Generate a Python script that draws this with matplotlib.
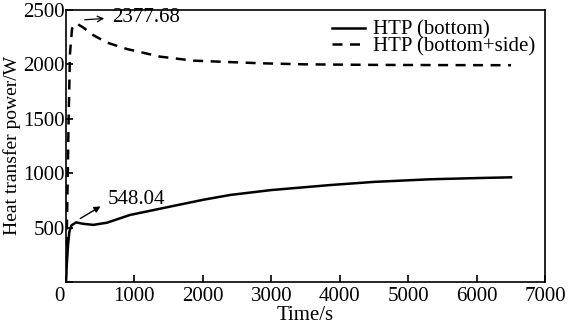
import numpy as np
import matplotlib.pyplot as plt
import matplotlib.transforms as mtransforms

plt.rcParams['font.family'] = ['Liberation Serif', 'DejaVu Serif']
plt.rcParams['mathtext.fontset'] = 'stix'

# HTP (bottom)
t_bottom = [0, 15, 30, 50, 80, 150, 250, 400, 600, 936, 1500, 2000, 2400,
            3000, 3860, 4500, 5322, 6000, 6500]
p_bottom = [0, 180, 330, 460, 520, 548, 535, 525, 545, 616, 690, 755, 800,
            845, 891, 920, 944, 955, 962]

# HTP (bottom+side)
t_side = [0, 20, 40, 60, 90, 150, 250, 395, 600, 890, 1374, 1860, 2836,
          3500, 4500, 5500, 6500]
p_side = [0, 700, 1500, 2100, 2330, 2377, 2340, 2270, 2200, 2141, 2071,
          2034, 2010, 2000, 1995, 1993, 1992]

x_ticks = [0, 1000, 2000, 3000, 4000, 5000, 6000, 7000]
y_ticks = [0, 500, 1000, 1500, 2000, 2500]
y_ticklabels = ['', '500', '1000', '1500', '2000', '2500']  # shared "0" drawn by x axis

fig = plt.figure(figsize=(5.68, 3.31), dpi=100)
ax = fig.add_axes([0.116, 0.148, 0.844, 0.822])

ax.plot(t_bottom, p_bottom, 'k-', lw=1.8, label='HTP (bottom)')
ax.plot(t_side, p_side, 'k--', lw=1.8, dashes=(4, 3), label='HTP (bottom+side)')

ax.annotate('', xy=(600, 2423), xytext=(234, 2408),
            arrowprops=dict(arrowstyle='->', color='k', lw=0.9))
ax.text(672, 2435, '2377.68', fontsize=15, va='center', ha='left')
ax.annotate('', xy=(541, 708), xytext=(175, 570),
            arrowprops=dict(arrowstyle='-|>', color='k', lw=1.0,
                            mutation_scale=9))
ax.text(614, 754, '548.04', fontsize=15, va='center', ha='left')

ax.set_xlim(0, 7000)
ax.set_ylim(0, 2500)
ax.set_xticks(x_ticks)
ax.set_yticks(y_ticks)
ax.set_yticklabels(y_ticklabels)
ax.tick_params(direction='in', length=5, width=1.2, labelsize=15,
               top=False, right=False)
ax.tick_params(axis='y', pad=1)
for s in ax.spines.values():
    s.set_linewidth(1.2)

# the corner "0" sits a little left of the origin
zero_lbl = ax.get_xticklabels()[0]
zero_lbl.set_transform(zero_lbl.get_transform() +
                       mtransforms.ScaledTranslation(-6 / 100, 0, fig.dpi_scale_trans))

ax.set_xlabel('Time/s', fontsize=15, labelpad=0)
ax.set_ylabel('Heat transfer power/W', fontsize=14, labelpad=1)

ax.legend(loc='upper right', frameon=False, fontsize=15, handlelength=1.55,
          handletextpad=0.38, labelspacing=-0.15, borderaxespad=0.1)

fig.savefig('out.png', dpi=100)
